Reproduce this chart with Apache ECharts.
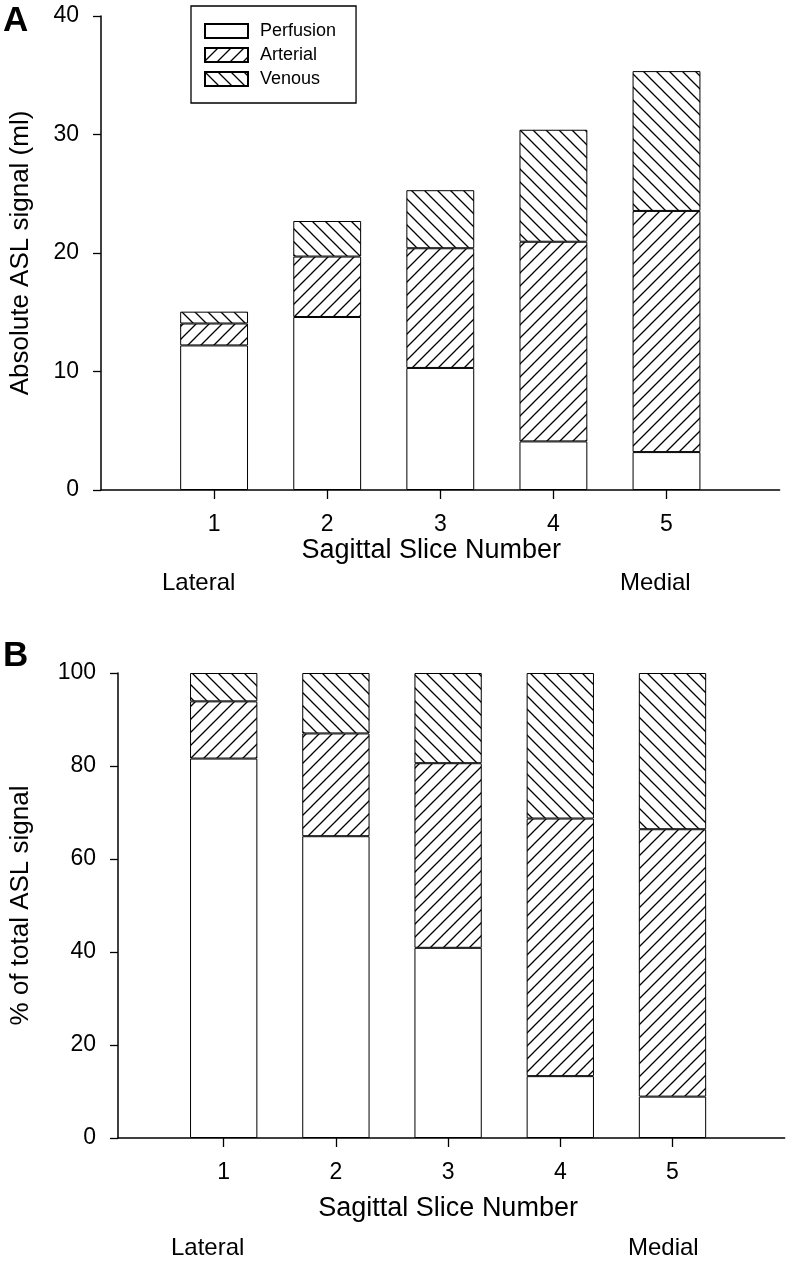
<!DOCTYPE html>
<html><head><meta charset="utf-8">
<script src="https://cdn.jsdelivr.net/npm/echarts@6/dist/echarts.min.js"></script>
<style>html,body{margin:0;padding:0;background:#fff}#c{width:787px;height:1266px}</style>
</head><body><div id="c"></div>
<script>
// ---- data ----
const categories = ['1', '2', '3', '4', '5'];
const seriesNames = ['Perfusion', 'Arterial', 'Venous'];
// Panel A: absolute ASL signal (ml), stacked segments
const absPerfusion = [12.2, 14.6, 10.3, 4.1, 3.2];
const absArterial  = [1.85, 5.1, 10.1, 16.85, 20.35];
const absVenous    = [1.0, 3.0, 4.9, 9.45, 11.8];
// Panel B: % of total ASL signal, stacked segments
const pctPerfusion = [81.6, 64.9, 40.9, 13.3, 8.9];
const pctArterial  = [12.3, 22.1, 39.7, 55.4, 57.5];
const pctVenous    = [6.1, 13.0, 19.4, 31.3, 33.6];
const sideLabels = ['Lateral', 'Medial'];

// ---- layout ----
const FONT = 'Liberation Sans, Arial, Helvetica, sans-serif';
const A = { left: 101, top: 16, height: 474, unit: 113.1, span: 6 };
const B = { left: 111.5, top: 673, height: 465, unit: 112.2, span: 6 };

function hatch(dir) {
  const s = 13;
  const c = document.createElement('canvas');
  c.width = s; c.height = s;
  const g = c.getContext('2d');
  g.fillStyle = '#fff'; g.fillRect(0, 0, s, s);
  g.strokeStyle = '#000'; g.lineWidth = 1.3;
  g.beginPath();
  if (dir > 0) {
    g.moveTo(-2, s + 2); g.lineTo(s + 2, -2);
    g.moveTo(-2, 2); g.lineTo(2, -2);
    g.moveTo(s - 2, s + 2); g.lineTo(s + 2, s - 2);
  } else {
    g.moveTo(-2, -2); g.lineTo(s + 2, s + 2);
    g.moveTo(s - 2, -2); g.lineTo(s + 2, 2);
    g.moveTo(-2, s - 2); g.lineTo(2, s + 2);
  }
  g.stroke();
  return c;
}
const fills = ['#ffffff', { image: hatch(1), repeat: 'repeat' }, { image: hatch(-1), repeat: 'repeat' }];

const grids = [
  { left: A.left, top: A.top, width: A.unit * A.span, height: A.height },                       // frame A
  { left: A.left + A.unit * 0.5, top: A.top, width: A.unit * 5, height: A.height },             // bars A
  { left: B.left, top: B.top, width: B.unit * B.span, height: B.height },                       // frame B
  { left: B.left + B.unit * 0.5, top: B.top, width: B.unit * 5, height: B.height }              // bars B
];

const axisLineStyle = { color: '#000', width: 1.5 };
function frameX(gi) {
  return { type: 'value', gridIndex: gi, min: 0, max: 6, axisLine: { show: true, lineStyle: axisLineStyle },
    axisTick: { show: false }, axisLabel: { show: false }, splitLine: { show: false } };
}
function barsX(gi, gap, pad) {
  return { type: 'category', gridIndex: gi, data: categories,
    axisLine: { show: false }, axisTick: { show: true, alignWithLabel: true, length: 9, lineStyle: { color: '#000', width: 1.3 } },
    axisLabel: { color: '#000', fontSize: 23, fontFamily: FONT, margin: 23 },
    name: 'Sagittal Slice Number', nameLocation: 'middle', nameGap: gap,
    nameTextStyle: { color: '#000', fontSize: 27, fontFamily: FONT, padding: pad } };
}
function frameY(gi, max, interval, name, gap) {
  return { type: 'value', gridIndex: gi, min: 0, max: max, interval: interval,
    axisLine: { show: true, lineStyle: axisLineStyle },
    axisTick: { show: true, length: 8, lineStyle: { color: '#000', width: 1.3 } },
    axisLabel: { color: '#000', fontSize: 23, fontFamily: FONT, margin: 22 },
    splitLine: { show: false },
    name: name, nameLocation: 'middle', nameGap: gap,
    nameTextStyle: { color: '#000', fontSize: 26, fontFamily: FONT } };
}
function barsY(gi, max) {
  return { type: 'value', gridIndex: gi, min: 0, max: max, show: false, splitLine: { show: false } };
}

function mkSeries(name, data, idx, axisIdx, stack) {
  return { type: 'bar', name: name, stack: stack, data: data, xAxisIndex: axisIdx, yAxisIndex: axisIdx,
    barWidth: '60%', itemStyle: { color: fills[idx], borderColor: '#000', borderWidth: 1 },
    emphasis: { disabled: true }, animation: false };
}

const absData = [absPerfusion, absArterial, absVenous];
const pctData = [pctPerfusion, pctArterial, pctVenous];
const series = [];
seriesNames.forEach((n, i) => series.push(mkSeries(n, absData[i], i, 1, 'abs')));
seriesNames.forEach((n, i) => series.push(mkSeries(n, pctData[i], i, 3, 'pct')));

function txt(text, left, top, size, bold) {
  return { type: 'text', left: left, top: top, silent: true,
    style: { text: text, fontSize: size, fontFamily: FONT, fontWeight: bold ? 'bold' : 'normal', fill: '#000' } };
}

const option = {
  backgroundColor: '#fff',
  animation: false,
  grid: grids,
  xAxis: [frameX(0), barsX(1, 45, [0, 18, 0, 0]), frameX(2), barsX(3, 57, [0, 0, 0, 0])],
  yAxis: [frameY(0, 40, 10, 'Absolute ASL signal (ml)', 67), barsY(1, 40),
          frameY(2, 100, 20, '% of total ASL signal', 84), barsY(3, 100)],
  legend: {
    data: seriesNames, orient: 'vertical', left: 191, top: 6, icon: 'rect',
    itemWidth: 43, itemHeight: 14, itemGap: 6,
    padding: [16, 20, 15, 13], borderColor: '#000', borderWidth: 1.3, backgroundColor: '#fff',
    selectedMode: false,
    textStyle: { color: '#000', fontSize: 18, fontFamily: FONT, padding: [0, 0, 0, 7] }
  },
  graphic: [
    txt('A', 3, 4, 35, true),
    txt('B', 3, 639, 35, true),
    txt(sideLabels[0], 162, 571, 24),
    txt(sideLabels[1], 620, 571, 24),
    txt(sideLabels[0], 171, 1236, 24),
    txt(sideLabels[1], 628, 1236, 24)
  ],
  series: series
};
echarts.init(document.getElementById('c'), null, { renderer: 'canvas' }).setOption(option);
</script></body></html>
